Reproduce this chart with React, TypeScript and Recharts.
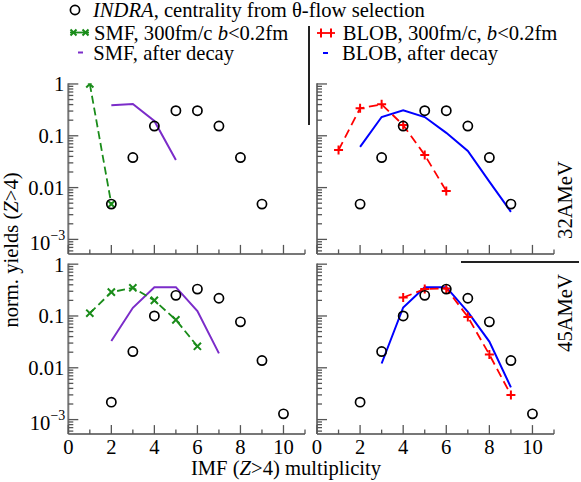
import React from 'react';
import { ComposedChart, Line, XAxis, YAxis } from 'recharts';

// ---------- data ----------
const multiplicityTicks = [0, 1, 2, 3, 4, 5, 6, 7, 8, 9, 10, 11];
const yMajorTicks = [0.001, 0.01, 0.1, 1];
const yMinorTicks = [
  0.0006, 0.0007, 0.0008, 0.0009,
  0.002, 0.003, 0.004, 0.005, 0.006, 0.007, 0.008, 0.009,
  0.02, 0.03, 0.04, 0.05, 0.06, 0.07, 0.08, 0.09,
  0.2, 0.3, 0.4, 0.5, 0.6, 0.7, 0.8, 0.9,
];

// 32 AMeV
const indraX32 = [2, 3, 4, 5, 6, 7, 8, 9];
const indraY32 = [0.0048, 0.038, 0.154, 0.305, 0.305, 0.154, 0.038, 0.0048];
const smf300X32 = [1, 2];
const smf300Y32 = [1.0, 0.0048];
const smfDecayX32 = [2, 3, 4, 5];
const smfDecayY32 = [0.39, 0.41, 0.193, 0.034];
const blob300X32 = [1, 2, 3, 4, 5, 6];
const blob300Y32 = [0.053, 0.34, 0.405, 0.161, 0.0425, 0.0086];
const blobDecayX32 = [2, 3, 4, 5, 6, 7, 8, 9];
const blobDecayY32 = [0.061, 0.23, 0.31, 0.23, 0.114, 0.051, 0.013, 0.0034];

// 45 AMeV
const indraX45 = [2, 3, 4, 5, 6, 7, 8, 9, 10];
const indraY45 = [0.00217, 0.0206, 0.1, 0.25, 0.33, 0.22, 0.077, 0.0138, 0.00129];
const smf300X45 = [1, 2, 3, 4, 5, 6];
const smf300Y45 = [0.113, 0.288, 0.35, 0.2, 0.084, 0.026];
const smfDecayX45 = [2, 3, 4, 5, 6, 7];
const smfDecayY45 = [0.033, 0.144, 0.36, 0.36, 0.124, 0.019];
const blob300X45 = [4, 5, 6, 7, 8, 9];
const blob300Y45 = [0.227, 0.33, 0.34, 0.096, 0.018, 0.003];
const blobDecayX45 = [3, 4, 5, 6, 7, 8, 9];
const blobDecayY45 = [0.0121, 0.146, 0.36, 0.36, 0.12, 0.032, 0.0042];

const zip = (xs: number[], ys: number[]) => xs.map((x, i) => ({ x, y: ys[i] }));

// ---------- style ----------
const FONT = '"Liberation Serif", "Times New Roman", serif';
const FS = 20.6;
const W = 581;
const H = 482;
const GREEN = '#1a8c1a';
const PURPLE = '#7b2cc9';
const RED = '#ff0000';
const BLUE = '#0000ff';
const AXIS = '#777';
const TICK = '#555';

const LEFT = { x0: 68.3, x1: 305 };
const RIGHT = { x0: 317, x1: 554 };
const TOP = { y0: 83.3, y1: 253.9 };
const BOT = { y0: 263.5, y1: 434.1 };
const Y_DOMAIN = [0.000525, 1.03];

const isMajor = (v: number) => yMajorTicks.some((t) => Math.abs(t - v) / t < 1e-6);

const makeYTick = (axisX: number, showLabel: boolean) => (props: any) => {
  const { y, payload } = props;
  const v = payload.value;
  const major = isMajor(v);
  let label: React.ReactNode = null;
  if (showLabel && major) {
    if (v < 0.005) {
      label = (
        <text x={axisX - 3} y={y} dy={10.5} textAnchor="end" fontFamily={FONT} fontSize={FS} fill="#000">
          10<tspan dy={-10} fontSize={14}>−3</tspan>
        </text>
      );
    } else {
      label = (
        <text x={axisX - 4} y={y} dy="0.36em" textAnchor="end" fontFamily={FONT} fontSize={FS} fill="#000">
          {v === 1 ? '1' : v === 0.1 ? '0.1' : '0.01'}
        </text>
      );
    }
  }
  return (
    <g>
      <line x1={axisX} x2={axisX + (major ? 10 : 5)} y1={y} y2={y} stroke={TICK} strokeWidth={1.3} />
      {label}
    </g>
  );
};

const makeXTick = (axisY: number, showLabel: boolean) => (props: any) => {
  const { x, payload } = props;
  const v = payload.value;
  const major = v % 2 === 0;
  return (
    <g>
      <line x1={x} x2={x} y1={axisY} y2={axisY - (major ? 9 : 4.5)} stroke={TICK} strokeWidth={1.3} />
      {showLabel && major ? (
        <text x={x} y={axisY + 20} textAnchor="middle" fontFamily={FONT} fontSize={FS} fill="#000">
          {v}
        </text>
      ) : null}
    </g>
  );
};

const crossDot = (color: string) => (props: any) => {
  const { cx, cy, index } = props;
  const s = 3.6;
  return (
    <path
      key={`c${index}`}
      d={`M${cx - s},${cy - s}L${cx + s},${cy + s}M${cx - s},${cy + s}L${cx + s},${cy - s}`}
      stroke={color}
      strokeWidth={2}
      fill="none"
    />
  );
};

const plusDot = (color: string) => (props: any) => {
  const { cx, cy, index } = props;
  const s = 4.5;
  return (
    <path
      key={`p${index}`}
      d={`M${cx - s},${cy}L${cx + s},${cy}M${cx},${cy - s}L${cx},${cy + s}`}
      stroke={color}
      strokeWidth={2}
      fill="none"
    />
  );
};

type Series = {
  data: { x: number; y: number }[];
  kind: 'circle' | 'smf300' | 'smfDecay' | 'blob300' | 'blobDecay';
};

const renderSeries = (s: Series, i: number) => {
  switch (s.kind) {
    case 'circle':
      return (
        <Line key={i} data={s.data} dataKey="y" stroke="none" isAnimationActive={false}
          dot={{ r: 4.6, stroke: '#000', strokeWidth: 1.7, fill: 'none' }} activeDot={false} />
      );
    case 'smf300':
      return (
        <Line key={i} data={s.data} dataKey="y" stroke={GREEN} strokeWidth={1.8} strokeDasharray="8 4"
          isAnimationActive={false} dot={crossDot(GREEN)} activeDot={false} />
      );
    case 'smfDecay':
      return (
        <Line key={i} data={s.data} dataKey="y" stroke={PURPLE} strokeWidth={2}
          isAnimationActive={false} dot={false} activeDot={false} />
      );
    case 'blob300':
      return (
        <Line key={i} data={s.data} dataKey="y" stroke={RED} strokeWidth={1.8} strokeDasharray="9 5"
          isAnimationActive={false} dot={plusDot(RED)} activeDot={false} />
      );
    case 'blobDecay':
      return (
        <Line key={i} data={s.data} dataKey="y" stroke={BLUE} strokeWidth={2}
          isAnimationActive={false} dot={false} activeDot={false} />
      );
  }
};

const Y_AXIS_W = 40;
const X_AXIS_H = 30;

const Panel = ({ hx, vy, yLabels, xLabels, series }: any) => {
  const margin = {
    left: hx.x0 - Y_AXIS_W,
    right: W - hx.x1,
    top: vy.y0,
    bottom: H - vy.y1 - X_AXIS_H,
  };
  return (
    <div style={{ position: 'absolute', left: 0, top: 0 }}>
      <ComposedChart width={W} height={H} margin={margin}>
        <XAxis type="number" dataKey="x" domain={[0, 11]} ticks={multiplicityTicks} interval={0}
          allowDataOverflow height={X_AXIS_H} tickSize={0} tickMargin={0} tickLine={false}
          axisLine={{ stroke: AXIS, strokeWidth: 2 }} tick={makeXTick(vy.y1, xLabels)} />
        <YAxis type="number" scale="log" domain={Y_DOMAIN} allowDataOverflow
          ticks={[...yMajorTicks, ...yMinorTicks]} interval={0} width={Y_AXIS_W}
          tickSize={0} tickMargin={0} tickLine={false}
          axisLine={{ stroke: AXIS, strokeWidth: 2 }} tick={makeYTick(hx.x0, yLabels)} />
        {series.map(renderSeries)}
      </ComposedChart>
    </div>
  );
};

const T = (props: any) => (
  <text fontFamily={FONT} fontSize={FS} fill="#000" dy="0.35em" {...props} />
);

export default function App() {
  const tl: Series[] = [
    { data: zip(smfDecayX32, smfDecayY32), kind: 'smfDecay' },
    { data: zip(smf300X32, smf300Y32), kind: 'smf300' },
    { data: zip(indraX32, indraY32), kind: 'circle' },
  ];
  const tr: Series[] = [
    { data: zip(blobDecayX32, blobDecayY32), kind: 'blobDecay' },
    { data: zip(blob300X32, blob300Y32), kind: 'blob300' },
    { data: zip(indraX32, indraY32), kind: 'circle' },
  ];
  const bl: Series[] = [
    { data: zip(smfDecayX45, smfDecayY45), kind: 'smfDecay' },
    { data: zip(smf300X45, smf300Y45), kind: 'smf300' },
    { data: zip(indraX45, indraY45), kind: 'circle' },
  ];
  const br: Series[] = [
    { data: zip(blobDecayX45, blobDecayY45), kind: 'blobDecay' },
    { data: zip(blob300X45, blob300Y45), kind: 'blob300' },
    { data: zip(indraX45, indraY45), kind: 'circle' },
  ];
  return (
    <div style={{ position: 'absolute', left: 0, top: 0, width: W, height: H, background: '#fff', overflow: 'hidden' }}>
      <Panel hx={LEFT} vy={TOP} yLabels xLabels={false} series={tl} />
      <Panel hx={RIGHT} vy={TOP} yLabels={false} xLabels={false} series={tr} />
      <Panel hx={LEFT} vy={BOT} yLabels xLabels series={bl} />
      <Panel hx={RIGHT} vy={BOT} yLabels={false} xLabels series={br} />
      <svg width={W} height={H} style={{ position: 'absolute', left: 0, top: 0, pointerEvents: 'none' }}>
        {/* legend */}
        <circle cx={75} cy={10} r={4.6} stroke="#000" strokeWidth={1.7} fill="none" />
        <T x={93} y={10}>
          <tspan fontStyle="italic">INDRA</tspan>, centrality from θ-flow selection
        </T>
        <line x1={70} x2={89} y1={32.5} y2={32.5} stroke={GREEN} strokeWidth={1.8} />
        <path d="M70.5,29.5L76.5,35.5M70.5,35.5L76.5,29.5M82.5,29.5L88.5,35.5M82.5,35.5L88.5,29.5" stroke={GREEN} strokeWidth={2} fill="none" />
        <T x={94} y={32.5}>
          SMF, 300fm/c <tspan fontStyle="italic">b</tspan>&lt;0.2fm
        </T>
        <line x1={78} x2={83} y1={52.5} y2={52.5} stroke={PURPLE} strokeWidth={2} />
        <T x={93.3} y={52.5}>SMF, after decay</T>

        <line x1={317} x2={335} y1={33} y2={33} stroke={RED} strokeWidth={1.8} />
        <path d="M321,28.5L321,37.5M331,28.5L331,37.5" stroke={RED} strokeWidth={2} fill="none" />
        <T x={342.7} y={33}>
          BLOB, 300fm/c, <tspan fontStyle="italic">b</tspan>&lt;0.2fm
        </T>
        <line x1={323} x2={328} y1={53} y2={53} stroke={BLUE} strokeWidth={2} />
        <T x={342} y={53}>BLOB, after decay</T>

        <line x1={309} x2={309} y1={26} y2={125} stroke="#222" strokeWidth={2} />
        <line x1={461} x2={579} y1={262} y2={262} stroke="#222" strokeWidth={2} />

        <T x={565} y={200} textAnchor="middle" transform="rotate(-90 565 200)">32AMeV</T>
        <T x={565} y={313} textAnchor="middle" transform="rotate(-90 565 313)">45AMeV</T>

        <T x={11} y={250} textAnchor="middle" transform="rotate(-90 11 250)">
          norm. yields (<tspan fontStyle="italic">Z</tspan>&gt;4)
        </T>
        <T x={286} y={468} textAnchor="middle">
          IMF (<tspan fontStyle="italic">Z</tspan>&gt;4) multiplicity
        </T>
      </svg>
    </div>
  );
}
